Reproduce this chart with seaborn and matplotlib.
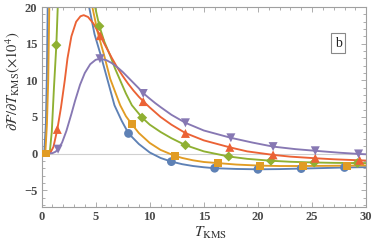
import numpy as np
import pandas as pd
import matplotlib
matplotlib.use("Agg")
import matplotlib.pyplot as plt
import seaborn as sns
from matplotlib.ticker import MultipleLocator

# curves (values above 20 are clipped by the frame)
blue_x = [0, 0.25, 0.4, 0.5, 0.57, 0.65, 1.0, 4.0, 4.4, 4.9, 5.48, 6.0, 6.74, 7.4, 8.04, 9.0, 10.0, 11.0,
          12.0, 13.0, 14.0, 15.0, 16.0, 18.0, 20.0, 22.0, 24.0, 26.0, 28.0, 30.0]
blue_y = [0, 0, 4, 11, 20, 30, 40, 25, 20, 16.3, 13.4, 10.6, 6.6, 4.5, 2.75, 1.3, 0.15, -0.6,
          -1.1, -1.45, -1.7, -1.87, -2.0, -2.1, -2.15, -2.12, -2.05, -1.98, -1.9, -1.85]

orange_x = [0, 0.35, 0.5, 0.62, 0.72, 0.8, 1.2, 4.3, 4.7, 5.2, 5.79, 6.35, 7.27, 7.8, 8.35, 9.0, 10.0,
            11.0, 12.3, 13.0, 14.0, 15.0, 16.3, 18.0, 20.2, 22.0, 24.2, 26.0, 28.2, 30.0]
orange_y = [0, 0, 4, 10, 20, 30, 40, 25, 20, 16.5, 13.4, 10.2, 6.6, 5.1, 4.0, 2.8, 1.45,
            0.5, -0.3, -0.6, -0.92, -1.15, -1.3, -1.5, -1.65, -1.7, -1.7, -1.68, -1.65, -1.62]

green_x = [0, 0.75, 0.95, 1.15, 1.37, 1.5, 1.7, 4.5, 4.95, 5.35, 5.8, 6.34, 6.8, 7.27, 7.8, 8.35, 9.3,
           10.0, 11.0, 12.0, 13.3, 15.0, 17.3, 19.0, 21.2, 23.0, 25.2, 27.0, 29.2, 30.0]
green_y = [0, 0, 3, 9, 14.8, 20, 30, 25, 20, 17.4, 15.3, 13.4, 11.6, 10.0, 8.2, 6.6, 4.9,
           3.95, 2.95, 2.1, 1.15, 0.3, -0.4, -0.72, -0.98, -1.12, -1.22, -1.27, -1.3, -1.3]

red_x = [0, 0.8, 1.1, 1.46, 1.8, 2.15, 2.4, 2.76, 3.2, 3.6, 3.9, 4.3, 4.8, 5.42, 6.0, 6.5, 7.0, 7.5,
         8.0, 8.5, 9.0, 9.4, 10.0, 11.0, 12.0, 13.3, 15.0, 17.4, 19.0, 21.4, 23.0, 25.3, 27.0, 29.4, 30.0]
red_y = [0, 0.05, 0.9, 3.3, 6.3, 10.0, 13.0, 16.0, 18.0, 18.75, 18.9, 18.65, 17.75, 16.1, 14.45, 13.05,
         11.75, 10.6, 9.55, 8.6, 7.75, 7.15, 6.3, 5.0, 3.95, 2.8, 1.8, 0.85, 0.3, -0.18, -0.42, -0.64,
         -0.78, -0.92, -0.95]

purple_x = [0, 1.0, 1.3, 1.53, 1.9, 2.3, 2.76, 3.1, 3.56, 4.0, 4.5, 5.0, 5.4, 6.0, 6.5, 7.0, 7.5, 8.0,
            8.5, 9.0, 9.4, 10.0, 10.5, 11.0, 12.0, 13.3, 15.0, 17.5, 19.5, 21.4, 23.5, 25.3, 27.5, 29.3, 30.0]
purple_y = [0, 0.05, 0.25, 0.6, 1.5, 3.1, 5.4, 7.2, 9.4, 11.0, 12.2, 12.8, 12.95, 12.75, 12.35, 11.8,
            11.15, 10.4, 9.65, 8.9, 8.25, 7.5, 6.9, 6.35, 5.3, 4.2, 3.15, 2.15, 1.5, 0.95, 0.6, 0.38,
            0.12, -0.05, -0.1]

# plot markers
blue_mx = [8.04, 12.0, 16.0, 20.0, 24.0, 28.0]
blue_my = [2.75, -1.1, -2.0, -2.15, -2.05, -1.9]
orange_mx = [0.4, 8.35, 12.3, 16.3, 20.2, 24.2, 28.2]
orange_my = [0.0, 4.0, -0.3, -1.3, -1.65, -1.7, -1.65]
green_mx = [1.37, 5.35, 9.3, 13.3, 17.3, 21.2, 25.2, 29.2]
green_my = [14.8, 17.4, 4.9, 1.15, -0.4, -0.98, -1.22, -1.3]
red_mx = [1.46, 5.42, 9.4, 13.3, 17.4, 21.4, 25.3, 29.4]
red_my = [3.3, 16.1, 7.1, 2.75, 0.85, -0.18, -0.64, -0.92]
purple_mx = [1.53, 5.4, 9.4, 13.3, 17.5, 21.4, 25.3, 29.3]
purple_my = [0.6, 12.95, 8.2, 4.2, 2.15, 0.95, 0.38, -0.05]

series = [
    ("blue", blue_x, blue_y, blue_mx, blue_my, "#5E81B5", "o", 40),
    ("orange", orange_x, orange_y, orange_mx, orange_my, "#E19C24", "s", 32),
    ("green", green_x, green_y, green_mx, green_my, "#8FB032", "D", 26),
    ("red", red_x, red_y, red_mx, red_my, "#EB6235", "^", 42),
    ("purple", purple_x, purple_y, purple_mx, purple_my, "#8778B3", "v", 42),
]

sns.set_theme(style="ticks")
plt.rcParams["font.family"] = ["Liberation Serif", "DejaVu Serif"]
plt.rcParams["mathtext.fontset"] = "stix"

fig = plt.figure(figsize=(3.74, 2.45), dpi=100)
ax = fig.add_axes([0.111, 0.155, 0.868, 0.816])

ax.axhline(0, color="#d0d0d0", lw=0.8, zorder=1)

for name, x, y, mx, my, col, mk, s in series:
    df = pd.DataFrame({"x": x, "y": y})
    sns.lineplot(data=df, x="x", y="y", ax=ax, color=col, lw=1.35, sort=False,
                 estimator=None, zorder=2)
for name, x, y, mx, my, col, mk, s in series:
    dm = pd.DataFrame({"x": mx, "y": my})
    sns.scatterplot(data=dm, x="x", y="y", ax=ax, color=col, marker=mk, s=s,
                    edgecolor="none", linewidth=0, zorder=3, clip_on=True)

ax.set_xlim(0, 30)
ax.set_ylim(-7.3, 20)
ax.xaxis.set_major_locator(MultipleLocator(5))
ax.xaxis.set_minor_locator(MultipleLocator(1))
ax.yaxis.set_major_locator(MultipleLocator(5))
ax.yaxis.set_minor_locator(MultipleLocator(1))
ax.set_yticks([-5, 0, 5, 10, 15, 20])
ax.set_yticklabels(["\u22125", "0", "5", "10", "15", "20"])

for sp in ax.spines.values():
    sp.set_color("#a0a0a0")
    sp.set_linewidth(0.8)
ax.tick_params(which="both", direction="in", top=True, right=True, color="#a0a0a0",
               labelsize=9, labelcolor="#4a4a4a", width=0.6, pad=3)
ax.tick_params(which="major", length=3.5)
ax.tick_params(which="minor", length=2)
for lab in ax.get_xticklabels() + ax.get_yticklabels():
    lab.set_fontweight("bold")

ax.set_xlabel(r"$T_{\mathrm{KMS}}$", fontsize=11, color="#333333", labelpad=2)
ax.xaxis.set_label_coords(0.52, -0.09)
ax.set_ylabel(r"$\partial\mathcal{F}/\partial T_{\mathrm{KMS}}(\times 10^4)$", fontsize=10.5,
              color="#333333", labelpad=1)
ax.yaxis.set_label_coords(-0.06, 0.63)

ax.text(0.914, 0.82, "b", transform=ax.transAxes, ha="center", va="center", fontsize=10,
        color="#222222",
        bbox=dict(boxstyle="square,pad=0.25", fc="white", ec="#888888", lw=0.8))

fig.savefig("out.png", dpi=100)
